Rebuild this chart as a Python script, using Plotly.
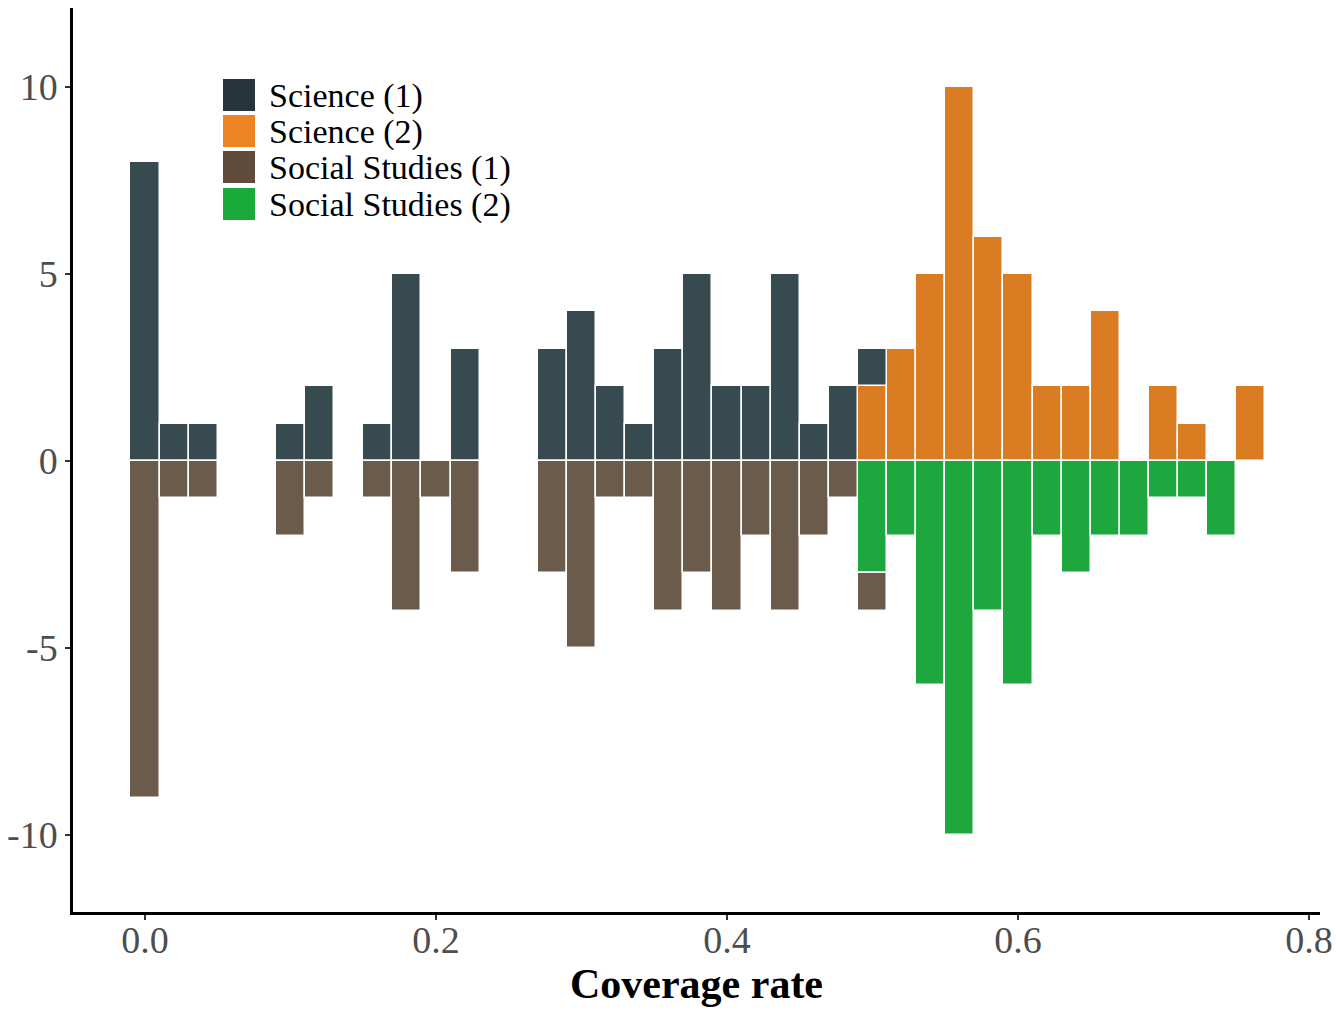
import plotly.graph_objects as go

# Bin centres of the coverage-rate histogram (bin width 0.02)
bins = [round(0.02 * i, 2) for i in range(39)]

science_1 = [8, 1, 1, 0, 0, 1, 2, 0, 1, 5, 0, 3, 0, 0, 3, 4, 2, 1, 3, 5,
             2, 2, 5, 1, 2, 1, 0, 0, 0, 0, 0, 0, 0, 0, 0, 0, 0, 0, 0]
science_2 = [0, 0, 0, 0, 0, 0, 0, 0, 0, 0, 0, 0, 0, 0, 0, 0, 0, 0, 0, 0,
             0, 0, 0, 0, 0, 2, 3, 5, 10, 6, 5, 2, 2, 4, 0, 2, 1, 0, 2]
social_1 = [-9, -1, -1, 0, 0, -2, -1, 0, -1, -4, -1, -3, 0, 0, -3, -5, -1, -1, -4, -3,
            -4, -2, -4, -2, -1, -1, 0, 0, 0, 0, 0, 0, 0, 0, 0, 0, 0, 0, 0]
social_2 = [0, 0, 0, 0, 0, 0, 0, 0, 0, 0, 0, 0, 0, 0, 0, 0, 0, 0, 0, 0,
            0, 0, 0, 0, 0, -3, -2, -6, -10, -4, -6, -2, -3, -2, -2, -1, -1, -2, 0]

series_names = ["Science (1)", "Science (2)", "Social Studies (1)", "Social Studies (2)"]
bar_colors = ["#374a4f", "#d97c22", "#6b5b4a", "#1ea63f"]
key_colors = ["#253539", "#ec8424", "#5e4b3a", "#1aaa3b"]

x_ticks = [0.0, 0.2, 0.4, 0.6, 0.8]
x_ticktext = ["0.0", "0.2", "0.4", "0.6", "0.8"]
y_ticks = [10, 5, 0, -5, -10]
y_ticktext = ["10", "5", "0", "-5", "-10"]

FONT = "Palatino Linotype, Book Antiqua, Palatino, Liberation Serif, serif"

fig = go.Figure()
# stacking order: inner segment first, outer segment on top / below
for name, vals, col in [
    (series_names[1], science_2, bar_colors[1]),
    (series_names[0], science_1, bar_colors[0]),
    (series_names[3], social_2, bar_colors[3]),
    (series_names[2], social_1, bar_colors[2]),
]:
    fig.add_trace(go.Bar(
        x=bins, y=vals, width=0.02, name=name, showlegend=False,
        marker=dict(color=col, line=dict(color="white", width=1.5)),
    ))

W, H = 1336, 1011
L, R, T, B = 73, 16, 8, 99
pw, ph = W - L - R, H - T - B


def px_x(p):
    return (p - L) / pw


def px_y(p):
    return (H - B - p) / ph


# hand-drawn key in the upper-left corner
key_tops = [79, 115, 151, 188]
for name, col, top in zip(series_names, key_colors, key_tops):
    fig.add_shape(type="rect", xref="paper", yref="paper",
                  x0=px_x(223), x1=px_x(255), y0=px_y(top + 32), y1=px_y(top),
                  fillcolor=col, line=dict(width=0))
    fig.add_annotation(xref="paper", yref="paper", x=px_x(267), y=px_y(top + 17),
                       text=name, showarrow=False, xanchor="left", yanchor="middle",
                       font=dict(family=FONT, size=34, color="black"))

fig.update_layout(
    width=W, height=H,
    margin=dict(l=L, r=R, t=T, b=B),
    barmode="relative",
    bargap=0,
    plot_bgcolor="white",
    paper_bgcolor="white",
    font=dict(family=FONT, color="#4d4d4d"),
    xaxis=dict(
        range=[-0.0495, 0.8076], tickvals=x_ticks, ticktext=x_ticktext,
        automargin=False,
        showgrid=False, zeroline=False, showline=True, linecolor="black", linewidth=2.5,
        ticks="outside", ticklen=5, tickwidth=2, tickcolor="#333333",
        ticklabelstandoff=-12,
        tickfont=dict(family=FONT, size=38, color="#4d4d4d"),
        title=dict(text="<b>Coverage rate</b>", font=dict(family=FONT, size=42, color="black"),
                   standoff=9),
    ),
    yaxis=dict(
        range=[-12.06, 12.11], tickvals=y_ticks, ticktext=y_ticktext,
        automargin=False,
        showgrid=False, zeroline=False, showline=True, linecolor="black", linewidth=2.5,
        ticks="outside", ticklen=5, tickwidth=2, tickcolor="#333333",
        tickfont=dict(family=FONT, size=38, color="#4d4d4d"),
    ),
)

fig.write_html("out.html")
